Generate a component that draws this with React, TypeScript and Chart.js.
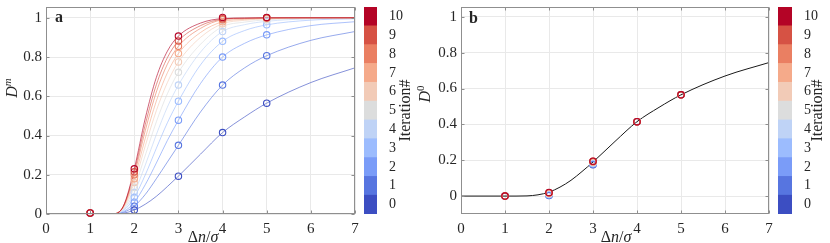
import React, { useEffect, useRef } from 'react';
import { Chart, registerables } from 'chart.js';

Chart.register(...registerables);

const SERIF = '"Liberation Serif", "Times New Roman", Times, serif';
const INK = '#262626';
const BOX = '#8f8f8f';
const GRID = '#e9e9e9';

// ---- data ----
const iterations = [0, 1, 2, 3, 4, 5, 6, 7, 8, 9, 10];
const iterColors = ['#3C4EC2', '#5775E0', '#7A9CF8', '#9CBCFE', '#BFD3F6', '#DCDDDD', '#F2CBB7', '#F5AA8A', '#EA7F62', '#D65244', '#B40426'];

const xTicks = [0, 1, 2, 3, 4, 5, 6, 7];
const yTicks = [0, 0.2, 0.4, 0.6, 0.8, 1];
const yTickLabels = ['0', '0.2', '0.4', '0.6', '0.8', '1'];

const sepX = [1, 2, 3, 4, 5];

// panel a: measured D^m per iteration at sepX
const dmPoints = [
  [0.005, 0.02, 0.193, 0.415, 0.565],
  [0.005, 0.04, 0.35, 0.657, 0.807],
  [0.005, 0.06, 0.478, 0.8, 0.913],
  [0.005, 0.085, 0.575, 0.88, 0.964],
  [0.005, 0.11, 0.657, 0.93, 0.982],
  [0.005, 0.135, 0.722, 0.955, 0.99],
  [0.005, 0.16, 0.775, 0.97, 0.995],
  [0.005, 0.18, 0.818, 0.98, 0.998],
  [0.005, 0.2, 0.855, 0.99, 1.0],
  [0.005, 0.215, 0.882, 0.995, 1.0],
  [0.005, 0.23, 0.907, 1.002, 1.002],
];

// fitted curves, read at these abscissae
const fitX = [0, 1, 1.25, 1.5, 1.75, 2, 2.25, 2.5, 2.75, 3, 3.5, 4, 4.5, 5, 6, 7];
const dmFits = [
  [0, 0, 0, 0.0005, 0.004, 0.02, 0.05, 0.09, 0.14, 0.193, 0.305, 0.415, 0.495, 0.565, 0.67, 0.745],
  [0, 0, 0, 0.0005, 0.008, 0.04, 0.1, 0.18, 0.265, 0.35, 0.52, 0.657, 0.745, 0.807, 0.885, 0.93],
  [0, 0, 0, 0.0005, 0.011, 0.06, 0.15, 0.26, 0.375, 0.478, 0.665, 0.8, 0.87, 0.913, 0.96, 0.98],
  [0, 0, 0, 0.0005, 0.016, 0.085, 0.2, 0.335, 0.465, 0.575, 0.76, 0.88, 0.935, 0.964, 0.988, 0.995],
  [0, 0, 0, 0.0005, 0.021, 0.11, 0.25, 0.405, 0.545, 0.657, 0.825, 0.93, 0.965, 0.982, 0.995, 0.999],
  [0, 0, 0, 0.0005, 0.026, 0.135, 0.3, 0.47, 0.613, 0.722, 0.865, 0.955, 0.978, 0.99, 0.998, 1.0],
  [0, 0, 0, 0.0005, 0.031, 0.16, 0.348, 0.527, 0.67, 0.775, 0.9, 0.97, 0.987, 0.995, 0.999, 1.0],
  [0, 0, 0, 0.0005, 0.034, 0.18, 0.387, 0.576, 0.72, 0.818, 0.925, 0.98, 0.992, 0.997, 1.0, 1.0],
  [0, 0, 0, 0.0005, 0.037, 0.2, 0.426, 0.622, 0.764, 0.855, 0.946, 0.99, 0.996, 0.999, 1.0, 1.0],
  [0, 0, 0, 0.0004, 0.038, 0.215, 0.457, 0.659, 0.797, 0.882, 0.96, 0.993, 0.998, 1.0, 1.0, 1.0],
  [0, 0, 0, 0.0003, 0.039, 0.23, 0.489, 0.696, 0.83, 0.907, 0.973, 0.996, 0.999, 1.0, 1.0, 1.0],
];

// panel b: estimated D^0 per iteration at sepX, and the reference curve
const d0Points = [
  [0, 0.003, 0.175, 0.415, 0.565],
  [0, 0.005, 0.177, 0.415, 0.565],
  [0, 0.007, 0.18, 0.415, 0.565],
  [0, 0.009, 0.182, 0.415, 0.565],
  [0, 0.011, 0.185, 0.415, 0.565],
  [0, 0.013, 0.187, 0.415, 0.565],
  [0, 0.015, 0.189, 0.415, 0.565],
  [0, 0.016, 0.191, 0.415, 0.565],
  [0, 0.018, 0.192, 0.415, 0.565],
  [0, 0.019, 0.194, 0.415, 0.565],
  [0, 0.02, 0.195, 0.415, 0.565],
];
const d0Fit = [0, 0, 0, 0.001, 0.007, 0.022, 0.05, 0.088, 0.137, 0.19, 0.305, 0.415, 0.495, 0.565, 0.67, 0.745];

// ---- drawing helpers ----
type Seg = { t: string; it?: boolean; bold?: boolean; sup?: boolean };

function drawRich(ctx: CanvasRenderingContext2D, segs: Seg[], size: number, x: number, y: number, rotate: boolean, align: 'center' | 'left' = 'center') {
  ctx.save();
  ctx.translate(x, y);
  if (rotate) ctx.rotate(-Math.PI / 2);
  const fontOf = (s: Seg) => `${s.it ? 'italic ' : ''}${s.bold ? 'bold ' : ''}${s.sup ? Math.round(size * 0.7) : size}px ${SERIF}`;
  let w = 0;
  for (const s of segs) {
    ctx.font = fontOf(s);
    w += ctx.measureText(s.t).width;
  }
  let cx = align === 'center' ? -w / 2 : 0;
  ctx.textBaseline = 'alphabetic';
  ctx.textAlign = 'left';
  ctx.fillStyle = INK;
  for (const s of segs) {
    ctx.font = fontOf(s);
    ctx.fillText(s.t, cx, s.sup ? -size * 0.4 : 0);
    cx += ctx.measureText(s.t).width;
  }
  ctx.restore();
}

const decorPlugin = {
  id: 'decor',
  afterDraw(chart: any, _args: any, o: any) {
    const ctx: CanvasRenderingContext2D = chart.ctx;
    if (o.box) {
      const a = chart.chartArea;
      const L = Math.round(a.left) + 0.5, R = Math.round(a.right) - 0.5;
      const T = Math.round(a.top) + 0.5, B = Math.round(a.bottom) - 0.5;
      ctx.save();
      ctx.strokeStyle = BOX;
      ctx.lineWidth = 1;
      ctx.beginPath();
      const xs = chart.scales.x, ys = chart.scales.y;
      for (const t of xs.ticks) {
        const px = Math.round(xs.getPixelForValue(t.value)) + 0.5;
        ctx.moveTo(px, B); ctx.lineTo(px, B - 3);
        ctx.moveTo(px, T); ctx.lineTo(px, T + 3);
      }
      for (const t of ys.ticks) {
        const py = Math.round(ys.getPixelForValue(t.value)) + 0.5;
        ctx.moveTo(L, py); ctx.lineTo(L + 3, py);
        ctx.moveTo(R, py); ctx.lineTo(R - 3, py);
      }
      ctx.stroke();
      ctx.strokeRect(L, T, R - L, B - T);
      ctx.restore();
    }
    for (const lab of o.labels || []) {
      drawRich(ctx, lab.segs, lab.size, lab.x, lab.y, !!lab.rotate, lab.align || 'center');
    }
  },
};

const tickFont = { family: SERIF, size: 15 };

function mainConfig(datasets: any[], yMin: number, padRight: number, labels: any[]) {
  return {
    type: 'line',
    data: { datasets },
    plugins: [decorPlugin],
    options: {
      animation: false,
      responsive: false,
      maintainAspectRatio: false,
      devicePixelRatio: 1,
      events: [],
      layout: { padding: { left: 0, right: padRight, top: 7, bottom: 0 } },
      plugins: {
        legend: { display: false },
        tooltip: { enabled: false },
        decor: { box: true, labels },
      },
      scales: {
        x: {
          type: 'linear',
          min: 0,
          max: 7,
          afterBuildTicks: (s: any) => { s.ticks = xTicks.map((v) => ({ value: v })); },
          ticks: { font: tickFont, color: INK, padding: 6, maxRotation: 0, autoSkip: false, callback: (_v: any, i: number) => String(xTicks[i]) },
          grid: { color: GRID, lineWidth: 1, drawTicks: false },
          border: { display: false },
          afterFit: (s: any) => { s.height = 29; s.paddingLeft = 0; s.paddingRight = 0; },
        },
        y: {
          type: 'linear',
          min: yMin,
          max: 1.055,
          afterBuildTicks: (s: any) => { s.ticks = yTicks.map((v) => ({ value: v })); },
          ticks: { font: tickFont, color: INK, padding: 4, autoSkip: false, callback: (_v: any, i: number) => yTickLabels[i] },
          grid: { color: GRID, lineWidth: 1, drawTicks: false },
          border: { display: false },
          afterFit: (s: any) => { s.width = 46; s.paddingTop = 0; s.paddingBottom = 0; },
        },
      },
    },
  };
}

function colorbarConfig(labelX: number) {
  return {
    type: 'bar',
    data: {
      labels: [''],
      datasets: iterations.map((it, i) => ({
        label: String(it),
        data: [1],
        backgroundColor: iterColors[i],
        borderWidth: 0,
        barPercentage: 1,
        categoryPercentage: 1,
      })),
    },
    plugins: [decorPlugin],
    options: {
      animation: false,
      responsive: false,
      maintainAspectRatio: false,
      devicePixelRatio: 1,
      events: [],
      layout: { padding: { left: 6, right: 0, top: 7, bottom: 29 } },
      plugins: {
        legend: { display: false },
        tooltip: { enabled: false },
        decor: {
          box: false,
          labels: [{ segs: [{ t: 'Iteration#' }], size: 16, x: labelX, y: 110.5, rotate: true }],
        },
      },
      scales: {
        x: { display: false, stacked: true },
        y: {
          stacked: true,
          position: 'right',
          min: 0,
          max: 11,
          afterBuildTicks: (s: any) => { s.ticks = iterations.map((v) => ({ value: v + 0.5 })); },
          ticks: { font: { family: SERIF, size: 14 }, color: INK, padding: 4, autoSkip: false, callback: (_v: any, i: number) => String(iterations[i]) },
          grid: { display: false },
          border: { display: false },
          afterFit: (s: any) => { s.width = 38; s.paddingTop = 0; s.paddingBottom = 0; },
        },
      },
    },
  };
}

const xLabelSegs: Seg[] = [{ t: 'Δ' }, { t: 'n', it: true }, { t: '/' }, { t: 'σ', it: true }];

function leftDatasets() {
  const ds: any[] = [];
  dmFits.forEach((ys, i) => {
    ds.push({
      data: fitX.map((x, j) => ({ x, y: ys[j] })),
      borderColor: iterColors[i] + 'C8',
      borderWidth: 0.8,
      pointRadius: 0,
      fill: false,
      cubicInterpolationMode: 'monotone',
      order: 100 + (10 - i),
    });
  });
  dmPoints.forEach((ys, i) => {
    ds.push({
      data: sepX.map((x, j) => ({ x, y: ys[j] })),
      showLine: false,
      pointRadius: 3.2,
      pointBorderWidth: 1.1,
      pointBorderColor: iterColors[i],
      pointBackgroundColor: 'rgba(0,0,0,0)',
      borderColor: iterColors[i],
      clip: false,
      order: 10 - i,
    });
  });
  return ds;
}

function rightDatasets() {
  const ds: any[] = [];
  ds.push({
    data: fitX.map((x, j) => ({ x, y: d0Fit[j] })),
    borderColor: '#1a1a1a',
    borderWidth: 1,
    pointRadius: 0,
    fill: false,
    cubicInterpolationMode: 'monotone',
    order: 200,
  });
  d0Points.forEach((ys, i) => {
    ds.push({
      data: sepX.map((x, j) => ({ x, y: ys[j] })),
      showLine: false,
      pointRadius: 3.2,
      pointBorderWidth: 1.1,
      pointBorderColor: iterColors[i],
      pointBackgroundColor: 'rgba(0,0,0,0)',
      borderColor: iterColors[i],
      clip: false,
      order: 10 - i,
    });
  });
  return ds;
}

export default function App() {
  const c1 = useRef<HTMLCanvasElement>(null);
  const c2 = useRef<HTMLCanvasElement>(null);
  const c3 = useRef<HTMLCanvasElement>(null);
  const c4 = useRef<HTMLCanvasElement>(null);

  useEffect(() => {
    const charts: Chart[] = [];
    charts.push(new Chart(c1.current as HTMLCanvasElement, mainConfig(leftDatasets(), 0, 7, [
      { segs: [{ t: 'D', it: true }, { t: 'm', it: true, sup: true }], size: 16, x: 17, y: 88, rotate: true },
      { segs: xLabelSegs, size: 16, x: 203, y: 242 },
      { segs: [{ t: 'a', bold: true }], size: 16, x: 55, y: 22, align: 'left' },
    ]) as any));
    charts.push(new Chart(c2.current as HTMLCanvasElement, colorbarConfig(52) as any));
    charts.push(new Chart(c3.current as HTMLCanvasElement, mainConfig(rightDatasets(), -0.1, 6, [
      { segs: [{ t: 'D', it: true }, { t: '0', sup: true }], size: 16, x: 15, y: 94, rotate: true },
      { segs: xLabelSegs, size: 16, x: 201, y: 242 },
      { segs: [{ t: 'b', bold: true }], size: 16, x: 54, y: 23, align: 'left' },
    ]) as any));
    charts.push(new Chart(c4.current as HTMLCanvasElement, colorbarConfig(50) as any));
    return () => { charts.forEach((c) => c.destroy()); };
  }, []);

  const abs = (left: number, width: number): React.CSSProperties => ({ position: 'absolute', left, top: 0, width, height: 243 });

  return (
    <div style={{ position: 'fixed', left: 0, top: 0, width: 830, height: 243, background: '#fff', overflow: 'hidden' }}>
      <canvas ref={c1} width={362} height={243} style={abs(0, 362)} />
      <canvas ref={c2} width={57} height={243} style={abs(358, 57)} />
      <canvas ref={c3} width={360} height={243} style={abs(415, 360)} />
      <canvas ref={c4} width={58} height={243} style={abs(772, 58)} />
    </div>
  );
}
